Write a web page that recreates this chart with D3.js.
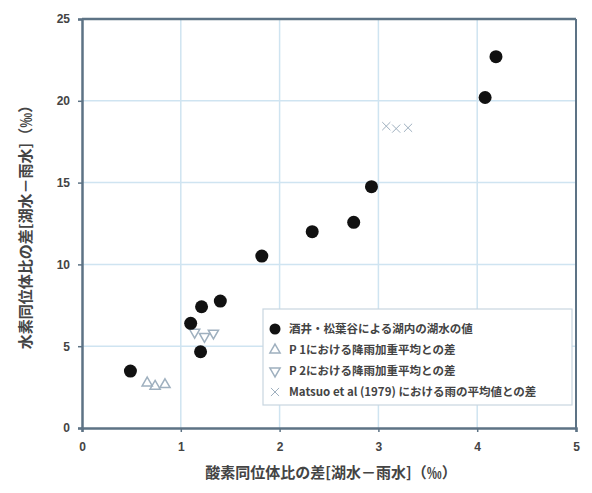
<!DOCTYPE html>
<html><head><meta charset="utf-8">
<script src="https://cdn.jsdelivr.net/npm/d3@7"></script>
<style>body{margin:0;background:#fff;} text{font-family:"Noto Sans CJK JP","Noto Sans",sans-serif;}</style>
</head><body>
<svg id="c" width="592" height="493"></svg>
<script>
// data
const lakeX = [0.49, 1.10, 1.21, 1.20, 1.40, 1.82, 2.33, 2.75, 2.93, 4.08, 4.19];
const lakeY = [3.48, 6.40, 7.41, 4.66, 7.76, 10.51, 12.0, 12.57, 14.75, 20.2, 22.7];
const p1X = [0.66, 0.74, 0.84];
const p1Y = [2.75, 2.55, 2.65];
const p2X = [1.14, 1.24, 1.33];
const p2Y = [5.85, 5.6, 5.8];
const matX = [3.08, 3.18, 3.30];
const matY = [18.45, 18.3, 18.35];
const xTicks = [0, 1, 2, 3, 4, 5];
const yTicks = [0, 5, 10, 15, 20, 25];
const legendLabels = [
  "酒井・松葉谷による湖内の湖水の値",
  "P 1における降雨加重平均との差",
  "P 2における降雨加重平均との差",
  "Matsuo et al (1979) における雨の平均値との差"
];
const xTitle = "酸素同位体比の差[湖水－雨水]（‰）";
const yTitle = "水素同位体比の差[湖水－雨水]（‰）";

const svg = d3.select("#c");
const L = 82, R = 576, T = 19, B = 428;
const x = d3.scaleLinear().domain([0, 5]).range([L, R]);
const y = d3.scaleLinear().domain([0, 25]).range([B, T]);
const axisCol = "#5d7385", gridCol = "#cfe4f1", mCol = "#9fb0bf";

// grid
svg.append("g").selectAll("line").data(xTicks.slice(1, -1)).join("line")
  .attr("x1", d => x(d)).attr("x2", d => x(d)).attr("y1", T).attr("y2", B)
  .attr("stroke", gridCol).attr("stroke-width", 1.5);
svg.append("g").selectAll("line").data(yTicks.slice(1, -1)).join("line")
  .attr("y1", d => y(d)).attr("y2", d => y(d)).attr("x1", L).attr("x2", R)
  .attr("stroke", gridCol).attr("stroke-width", 1.5);

// axes
const xa = svg.append("g").attr("transform", `translate(0,${B})`)
  .call(d3.axisBottom(x).tickValues(xTicks).tickFormat(d3.format("d")).tickSize(4).tickPadding(10));
const ya = svg.append("g").attr("transform", `translate(${L},0)`)
  .call(d3.axisLeft(y).tickValues(yTicks).tickFormat(d3.format("d")).tickSize(4).tickPadding(8));
[xa, ya].forEach(a => {
  a.select(".domain").attr("stroke", axisCol).attr("stroke-width", 2.5);
  a.selectAll(".tick line").attr("stroke", axisCol).attr("stroke-width", 1.5);
  a.selectAll(".tick text").attr("fill", "#444").attr("font-size", 12).attr("font-weight", "bold")
    .style("font-family", "'Liberation Sans',Arial,sans-serif");
});
// top and right frame
svg.append("line").attr("x1", L).attr("x2", R).attr("y1", T).attr("y2", T).attr("stroke", axisCol).attr("stroke-width", 2.5);
svg.append("line").attr("x1", R).attr("x2", R).attr("y1", T).attr("y2", B).attr("stroke", axisCol).attr("stroke-width", 2);

// symbols
const tri = d3.symbol().type(d3.symbolTriangle).size(45);
const cross = d3.symbol().type(d3.symbolX).size(45);

svg.append("g").selectAll("path").data(p1X.map((v, i) => [v, p1Y[i]])).join("path")
  .attr("d", tri).attr("transform", d => `translate(${x(d[0])},${y(d[1])})`)
  .attr("fill", "none").attr("stroke", mCol).attr("stroke-width", 1.5);
svg.append("g").selectAll("path").data(p2X.map((v, i) => [v, p2Y[i]])).join("path")
  .attr("d", tri).attr("transform", d => `translate(${x(d[0])},${y(d[1])}) rotate(180)`)
  .attr("fill", "none").attr("stroke", mCol).attr("stroke-width", 1.5);
svg.append("g").selectAll("path").data(matX.map((v, i) => [v, matY[i]])).join("path")
  .attr("d", cross).attr("transform", d => `translate(${x(d[0])},${y(d[1])})`)
  .attr("fill", mCol).attr("stroke", mCol).attr("stroke-width", 1);

svg.append("g").selectAll("circle").data(lakeX.map((v, i) => [v, lakeY[i]])).join("circle")
  .attr("cx", d => x(d[0])).attr("cy", d => y(d[1])).attr("r", 6.5).attr("fill", "#111");

// legend
const lg = svg.append("g").attr("transform", "translate(263,309)");
lg.append("rect").attr("width", 309).attr("height", 96).attr("fill", "#fff")
  .attr("stroke", "#c8d6e0").attr("stroke-width", 1.2);
const rows = [20, 41, 62, 83];
legendLabels.forEach((t, i) => {
  const g = lg.append("g").attr("transform", `translate(12,${rows[i]})`);
  if (i === 0) g.append("circle").attr("r", 5.5).attr("fill", "#111");
  else if (i === 1) g.append("path").attr("d", tri).attr("fill", "none").attr("stroke", mCol).attr("stroke-width", 1.5);
  else if (i === 2) g.append("path").attr("d", tri).attr("transform", "rotate(180)").attr("fill", "none").attr("stroke", mCol).attr("stroke-width", 1.5);
  else g.append("path").attr("d", cross).attr("fill", mCol).attr("stroke", mCol);
  g.append("text").attr("x", 14).attr("dy", "0.35em").attr("font-size", 11.5).attr("font-weight", "bold")
    .attr("fill", "#444").text(t);
});

// titles
svg.append("text").attr("x", (L + R) / 2 + 2).attr("y", 478).attr("text-anchor", "middle")
  .attr("font-size", 15).attr("font-weight", "bold").attr("fill", "#444").text(xTitle);
svg.append("text").attr("transform", `translate(31,${(T + B) / 2}) rotate(-90)`).attr("text-anchor", "middle")
  .attr("font-size", 15).attr("font-weight", "bold").attr("fill", "#444").text(yTitle);
</script>
</body></html>
